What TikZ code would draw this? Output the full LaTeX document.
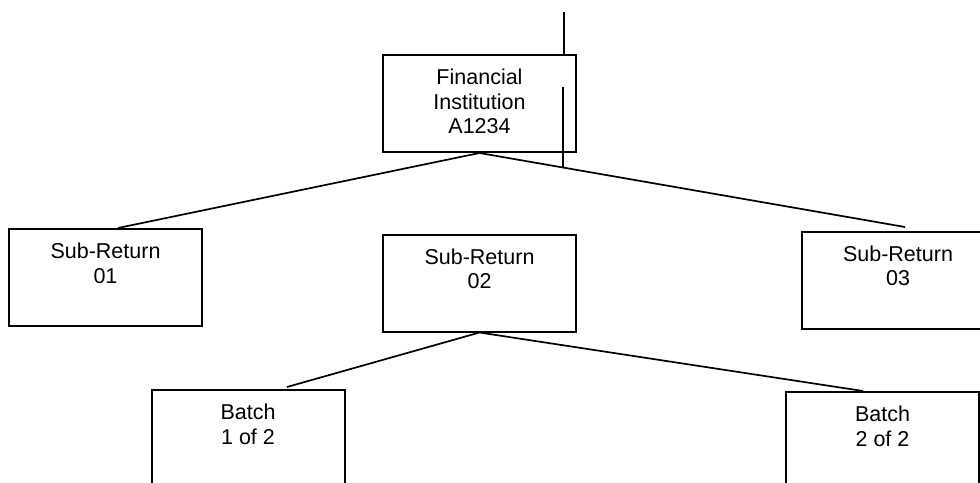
\documentclass[tikz,border=0pt]{standalone}
\usepackage{fontspec}
\setmainfont{Liberation Sans}

\begin{document}
\begin{tikzpicture}[x=1pt, y=-1pt,
	box/.style={draw=black, line width=2pt, minimum width=193pt, minimum height=97pt, inner sep=0pt},
	txt/.style={anchor=north, inner sep=0pt, yshift=-15pt, align=center, font=\fontsize{21.5pt}{24.5pt}\selectfont},
	link/.style={line width=1.7pt}]
	\useasboundingbox (0,0) rectangle (980,482);
	\clip (0,0) rectangle (980,482);

	\node [box, label={[txt]north:Financial\\Institution\\A1234}] (1) at (479.5, 103.5) {};
	
	\node [box, label={[txt]north:Sub-Return\\01}] (2) at (105.5, 277.5) {};
	\node [box, label={[txt]north:Sub-Return\\02}] (3) at (479.5, 283) {};
	\node [box, label={[txt]north:Sub-Return\\03}] (4) at (898, 280) {};

	\node [box, label={[txt]north:Batch\\1 of 2}] (5) at (248, 438.5) {};
	\node [box, label={[txt]north:Batch\\2 of 2}] (6) at (882.5, 440.5) {};

	\draw [link] (1.south) to ([xshift=12.5pt]2.north);
	\draw [link] (1.south) to ([xshift=7pt, yshift=3.5pt]4.north);
	\draw [link] (3.south) to ([xshift=39pt, yshift=2pt]5.north);
	\draw [link] (3.south) to ([xshift=-19.5pt]6.north);

	\coordinate (a) at (564, 12);
	\coordinate (b) at (563, 87);
	\coordinate (c) at (563, 168);
	\draw [link] (a) to ([xshift=84.5pt]1.north);
	\draw [link] (b) to (c);
\end{tikzpicture}
\end{document}
